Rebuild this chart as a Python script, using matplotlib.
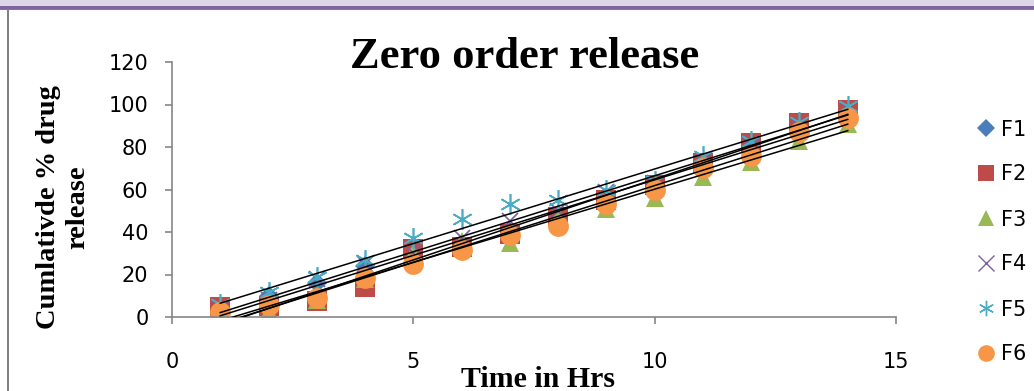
import numpy as np
import matplotlib
matplotlib.use("Agg")
import matplotlib.pyplot as plt
from matplotlib.lines import Line2D
from matplotlib.patches import Rectangle

# Dissolution data: cumulative % drug released vs time (hrs)
time_hrs = [1, 2, 3, 4, 5, 6, 7, 8, 9, 10, 11, 12, 13, 14]
F1 = [3, 10, 16, 24, 28, 33, 40, 48, 55, 60, 72, 80, 90, 96]
F2 = [4.5, 5, 7.5, 14, 32, 33, 39, 47, 55, 62, 72.5, 82, 91.5, 97.5]
F3 = [3, 3, 8, 18, 30, 36, 35, 48, 51, 56, 66, 73, 83, 91]
F4 = [4, 8, 18, 25, 30, 37, 45, 50, 59, 63, 73, 80, 90, 98]
F5 = [6, 12, 19, 27, 37, 46, 53, 55, 60, 64, 76, 83, 92, 99.5]
F6 = [2.5, 5.5, 9, 18.5, 25, 31.5, 38.5, 43, 53, 60, 70, 76, 87, 93.5]
series_names = ["F1", "F2", "F3", "F4", "F5", "F6"]
series_values = [F1, F2, F3, F4, F5, F6]
x_ticks = [0, 5, 10, 15]
y_ticks = [0, 20, 40, 60, 80, 100, 120]

colors = ["#4A7EBB", "#BE4B48", "#98B954", "#7D60A0", "#4BACC6", "#F79646"]
markers = ["D", "s", "^", "x", (6, 2, 0), "o"]
sizes = [10, 14, 13, 11, 15, 15]

W, H = 1034, 391
fig = plt.figure(figsize=(W / 100, H / 100), dpi=100)
fig.patch.set_facecolor("white")

# page frame: lavender band, purple rule, grey rules
fig.patches.append(Rectangle((0, 1 - 6 / H), 1, 6 / H, transform=fig.transFigure,
                             facecolor="#DCD6E6", edgecolor="none"))
fig.patches.append(Rectangle((0, 1 - 9 / H), 1, 3 / H, transform=fig.transFigure,
                             facecolor="#8064A2", edgecolor="none"))
fig.patches.append(Rectangle((0, 1 - 10 / H), 1, 1.2 / H, transform=fig.transFigure,
                             facecolor="#808080", edgecolor="none"))
fig.patches.append(Rectangle((7 / W, 0), 2 / W, 1 - 10 / H, transform=fig.transFigure,
                             facecolor="#808080", edgecolor="none"))

ax_l, ax_r, ax_t, ax_b = 172, 896, 62, 317
ax = fig.add_axes([ax_l / W, 1 - ax_b / H, (ax_r - ax_l) / W, (ax_b - ax_t) / H])
ax.set_xlim(0, 15)
ax.set_ylim(0, 120)

tick_family = ["Liberation Sans Narrow", "DejaVu Sans"]

for name, vals, c, m, s in zip(series_names, series_values, colors, markers, sizes):
    if m in ("x", (6, 2, 0)):
        ax.plot(time_hrs, vals, linestyle="none", marker=m, markersize=s,
                color=c, markeredgewidth=1.2, zorder=2)
    else:
        ax.plot(time_hrs, vals, linestyle="none", marker=m, markersize=s,
                color=c, markeredgewidth=0, zorder=2)

# linear trend lines
for vals in series_values:
    k, b = np.polyfit(time_hrs, vals, 1)
    xs = np.array([time_hrs[0], time_hrs[-1]])
    ax.plot(xs, k * xs + b, color="black", linewidth=1.1, zorder=3)

for side in ("top", "right"):
    ax.spines[side].set_visible(False)
for side in ("left", "bottom"):
    ax.spines[side].set_color("#868686")
    ax.spines[side].set_linewidth(1.2)

ax.set_xticks(x_ticks)
ax.set_yticks(y_ticks)
ax.tick_params(axis="both", direction="out", color="#868686", length=5, width=1.2)
ax.tick_params(axis="x", pad=20)
ax.tick_params(axis="y", pad=12)
for lbl in ax.get_xticklabels() + ax.get_yticklabels():
    lbl.set_fontfamily(tick_family)
    lbl.set_fontsize(15)

fig.text(525 / W, 1 - 68 / H, "Zero order release", ha="center", va="baseline",
         fontfamily="Liberation Serif", fontweight="bold", fontsize=32)
fig.text(538 / W, 1 - 387 / H, "Time in Hrs", ha="center", va="baseline",
         fontfamily="Liberation Serif", fontweight="bold", fontsize=21.5)
fig.text(63 / W, 1 - 207 / H, "Cumlativde % drug\nrelease", ha="center", va="center",
         rotation=90, fontfamily="Liberation Serif", fontweight="bold", fontsize=20.5,
         linespacing=1.2)

handles = []
for name, c, m in zip(series_names, colors, markers):
    if m in ("x", (6, 2, 0)):
        h = Line2D([], [], linestyle="none", marker=m, markersize=11, color=c,
                   markeredgewidth=1.0)
    else:
        h = Line2D([], [], linestyle="none", marker=m, color=c, markeredgewidth=0,
                   markersize={"D": 9, "s": 12, "^": 12, "o": 12}[m])
    handles.append(h)
fig.legend(handles, series_names, loc="center left",
           bbox_to_anchor=(966 / W, 1 - 242 / H), frameon=False,
           prop={"family": tick_family, "size": 15},
           handlelength=0.9, handletextpad=0.3, labelspacing=1.2, borderpad=0)

fig.savefig("out.png", dpi=100)
